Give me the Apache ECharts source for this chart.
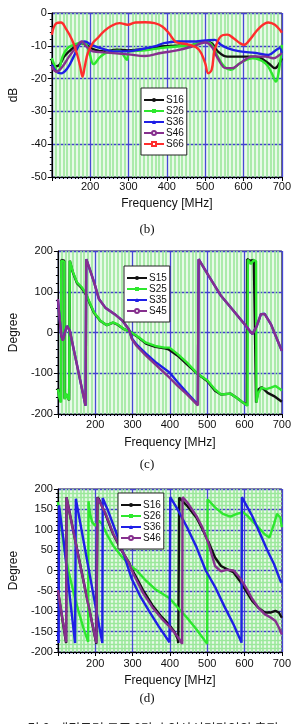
<!DOCTYPE html>
<html>
<head>
<meta charset="utf-8">
<script src="https://cdn.jsdelivr.net/npm/echarts@6/dist/echarts.min.js"></script>
<style>
  html, body { margin: 0; padding: 0; background: #fff; }
  #main { width: 294px; height: 724px; }
</style>
</head>
<body>
<div id="main"></div>
<script>
// ---- (b) magnitude, dB : [MHz, dB]
var magS16 = [[100,-14.3],[107,-16.3],[120,-15.8],[132,-13.3],[145,-11.7],[161,-10.2],[178,-9.2],[190,-9.7],[211,-11.2],[236,-11.7],[269,-11.2],[299,-11.4],[343,-11],[384,-10.2],[426,-10],[467,-9.7],[500,-8.7],[517,-9.2],[533,-11.7],[558,-13.3],[591,-13.3],[632,-13.3],[665,-15.3],[682,-16.8],[694,-15.3],[700,-13.8]];
var magS26 = [[100,-13.8],[105,-15.3],[116,-17.9],[128,-13.3],[141,-10.7],[157,-9.7],[174,-9.2],[186,-9.2],[198,-12.2],[209,-15.6],[227,-13.3],[252,-11.7],[277,-11.5],[289,-13.3],[296,-14.3],[302,-11.7],[343,-11.4],[384,-10.7],[426,-10.2],[467,-9.7],[500,-8.7],[517,-9.7],[533,-13.3],[550,-16.3],[566,-17.3],[591,-15.3],[624,-13.8],[657,-15.3],[674,-18.4],[684,-20.9],[694,-16.3],[700,-9.7]];
var magS36 = [[100,-15.8],[112,-17.9],[124,-18.4],[141,-16.8],[157,-13.3],[174,-9.2],[186,-8.7],[203,-9.7],[227,-10.7],[260,-11.7],[299,-11.7],[326,-11.2],[368,-10.2],[393,-9.2],[426,-8.7],[467,-8.7],[500,-8.4],[525,-8.2],[541,-9.7],[558,-10.7],[591,-11.7],[632,-12.2],[665,-12.8],[686,-11.2],[694,-10.7],[700,-12.2]];
var magS46 = [[100,-16.3],[112,-17.9],[128,-16.3],[145,-13.3],[165,-10.2],[178,-8.7],[190,-10.2],[207,-11.7],[236,-12],[299,-12.6],[343,-13.1],[384,-12.2],[426,-11.4],[467,-10.2],[500,-9],[517,-10.2],[533,-13.8],[554,-16.8],[570,-16.8],[591,-15.3],[624,-13.3],[657,-13.3],[678,-13.8],[694,-12.8],[700,-12.2]];
var magS66 = [[100,-6.6],[112,-3.1],[124,-2.9],[136,-4.6],[153,-8.2],[165,-12.2],[174,-16.3],[180,-19.4],[186,-16.3],[194,-12.2],[207,-9.2],[219,-7.7],[236,-5.6],[256,-3.9],[277,-3.1],[298,-3.6],[318,-2.9],[343,-2.8],[368,-3.1],[388,-4.1],[405,-6.1],[422,-8.7],[434,-9.2],[459,-9.7],[484,-11.2],[500,-15.3],[508,-18.4],[517,-17.3],[525,-11.2],[541,-7.1],[558,-6.6],[574,-7.7],[591,-9.2],[601,-9.7],[616,-8.2],[641,-4.6],[665,-2.9],[682,-3.6],[698,-5.6],[700,-6]];

// ---- (c) phase, degree : [MHz, deg]
var phS15 = [[100,-136],[104,-158],[108,-170],[109,178],[113,176],[117,176],[117.6,-162],[122,-152],[126,-158],[130,-166],[132,176],[139,150],[151,121],[164,109],[176,92],[185,72],[197,48],[214,28],[231,18],[248,24],[260,19],[277,8],[294,2],[311,-9],[336,-27],[361,-35],[386,-39],[396,-41],[421,-57],[446,-78],[475,-102],[500,-119],[521,-143],[537,-152],[562,-150],[579,-160],[596,-172],[606,-178],[607,180],[615,176],[625,178],[630,176],[631,-172],[637,-140],[646,-134],[662,-148],[679,-156],[700,-170]];
var phS25 = [[100,-139],[104,-160],[108,-172],[109,176],[113,178],[117,174],[117.6,-164],[122,-150],[126,-160],[130,-165],[132,176],[139,152],[151,123],[164,111],[176,94],[185,74],[197,49],[214,29],[231,18],[248,25],[260,20],[277,8],[294,2],[311,-8],[336,-25],[361,-33],[386,-37],[399,-37],[421,-53],[446,-74],[475,-102],[500,-117],[521,-140],[537,-152],[562,-150],[579,-160],[596,-172],[608,-180],[609,179],[617,168],[625,178],[631,175],[632,-172],[637,-148],[646,-135],[658,-139],[671,-135],[683,-131],[696,-139],[700,-143]];
var phS35 = [[100,80],[104,40],[109,-8],[113,-19],[119,1],[124,16],[127,18],[132,4],[140,-31],[150,-75],[160,-119],[170,-162],[174,-180],[176,180],[185,156],[197,123],[210,82],[227,61],[252,45],[273,29],[290,8],[298,-14],[311,-30],[336,-52],[361,-72],[399,-98],[421,-122],[446,-148],[475,-177],[477,180],[504,139],[537,90],[571,53],[604,16],[621,-4],[633,16],[644,45],[654,46],[671,20],[687,-16],[700,-45]];
var phS45 = [[100,82],[104,41],[109,-8],[113,-20],[119,0],[124,16],[127,18],[132,4],[140,-31],[150,-75],[160,-119],[170,-162],[174,-180],[176,180],[185,156],[197,123],[210,82],[227,61],[252,45],[273,29],[290,8],[298,-16],[311,-33],[336,-57],[361,-78],[399,-111],[421,-131],[446,-152],[475,-179],[477,180],[504,139],[537,90],[571,53],[604,16],[621,-4],[633,16],[644,45],[654,45],[671,20],[687,-16],[700,-45]];

// ---- (d) phase, degree : [MHz, deg]
var phS16 = [[100,-50],[110,-108],[122,-178],[123,180],[140,103],[160,13],[180,-77],[203,-180],[206,180],[210,175],[227,139],[248,89],[269,52],[290,20],[302,-3],[328,-48],[353,-85],[378,-114],[399,-134],[412,-150],[421,-168],[422.5,-178],[425,179],[446,159],[471,130],[487,102],[504,69],[521,32],[537,11],[554,3],[571,-5],[587,-25],[604,-50],[621,-75],[637,-91],[654,-103],[671,-103],[683,-99],[692,-103],[700,-116]];
var phS26 = [[100,168],[104,147],[109,106],[118,48],[128,0],[143,-58],[155,-99],[168,-140],[181,-175],[182,170],[186,139],[192,118],[200,110],[210,122],[218,114],[231,89],[248,61],[269,36],[294,12],[311,0],[336,-25],[361,-46],[399,-68],[421,-91],[446,-116],[471,-144],[500,-180],[501,175],[521,155],[542,139],[562,132],[579,139],[596,143],[608,134],[629,114],[654,89],[667,81],[679,114],[687,139],[696,130],[700,106]];
var phS36 = [[100,-150],[102,-178],[103,160],[105,157],[115,75],[125,-7],[135,-89],[146,-178],[148,176],[160,116],[180,16],[200,-84],[219,-178],[220,178],[235,145],[250,108],[265,70],[280,30],[298,-21],[320,-62],[344,-99],[370,-137],[399,-176],[400,-180],[401,180],[420,151],[446,106],[471,58],[496,0],[521,-40],[546,-88],[571,-133],[592,-177],[593,180],[620,135],[638,98],[662,48],[679,16],[696,-25],[700,-30]];
var phS46 = [[100,-48],[110,-106],[122,-176],[123,180],[140,102],[160,12],[180,-78],[203,-178],[206,179],[210,176],[227,141],[248,91],[269,53],[290,19],[302,-8],[328,-55],[353,-90],[378,-118],[399,-138],[413,-153],[425,-168],[433,-180],[434,180],[446,168],[471,134],[487,106],[504,65],[521,11],[537,-2],[554,2],[571,0],[587,-17],[604,-42],[621,-70],[637,-91],[654,-107],[671,-116],[683,-124],[692,-140],[700,-157]];

var freqTicks = [100, 700, 100];

var colS16 = '#111111', colS26 = '#2ee82e', colS36 = '#1f1fe6', colS46 = '#86308e', colS66 = '#ff2d2d';

var myChart = echarts.init(document.getElementById('main'));
var FONT = '"Liberation Sans", Arial, sans-serif';

function xAxisOf(i, labelMargin, nameGap) {
  return {
    type: 'value', gridIndex: i, min: freqTicks[0], max: freqTicks[1], interval: freqTicks[2],
    axisLine: { show: true, onZero: false, lineStyle: { color: '#000', width: 1 } },
    axisTick: { show: true, length: 4, lineStyle: { color: '#000' } },
    minorTick: { show: true, splitNumber: 10, length: 2, lineStyle: { color: '#000' } },
    splitLine: { show: true, lineStyle: { color: '#4747d6', width: 1.3 } },
    minorSplitLine: { show: true, lineStyle: { color: '#9be89b', width: 1.6 } },
    axisLabel: {
      fontSize: 11, color: '#111', fontFamily: FONT, margin: labelMargin,
      formatter: function (v) { return v === 100 ? '' : String(v); }
    },
    name: 'Frequency [MHz]', nameLocation: 'middle', nameGap: nameGap,
    nameTextStyle: { fontSize: 12, color: '#111', fontFamily: FONT }
  };
}

function yAxisOf(i, min, max, interval, name, nameGap, minorGrid) {
  return {
    type: 'value', gridIndex: i, min: min, max: max, interval: interval,
    axisLine: { show: true, onZero: false, lineStyle: { color: '#000', width: 1 } },
    axisTick: { show: true, length: 4, lineStyle: { color: '#000' } },
    minorTick: { show: true, splitNumber: 5, length: 2, lineStyle: { color: '#000' } },
    splitLine: { show: true, lineStyle: { color: '#4040c8', width: 1.3 } },
    minorSplitLine: { show: minorGrid, lineStyle: { color: '#9be89b', width: 1.4 } },
    axisLabel: { fontSize: 11, color: '#111', fontFamily: FONT, margin: 5 },
    name: name, nameLocation: 'middle', nameGap: nameGap,
    nameTextStyle: { fontSize: 12, color: '#111', fontFamily: FONT }
  };
}

function legendOf(names, left, top) {
  return {
    data: names, orient: 'vertical', left: left, top: top,
    itemWidth: 20, itemHeight: 5, itemGap: 1,
    padding: [7, 3, 6, 2],
    backgroundColor: '#fff', borderColor: '#222', borderWidth: 1, borderRadius: 0,
    selectedMode: false,
    textStyle: { fontSize: 10, lineHeight: 10, color: '#111', fontFamily: FONT, padding: [0, 0, 0, -3] }
  };
}

function line(name, data, color, symbol, i, smooth) {
  return {
    name: name, type: 'line', data: data, xAxisIndex: i, yAxisIndex: i,
    symbol: symbol, symbolSize: 4, showSymbol: false, smooth: smooth,
    color: color,
    lineStyle: { color: color, width: 2.4 },
    itemStyle: { color: color, borderColor: color },
    animation: false
  };
}

var gridStyle = { show: true, backgroundColor: '#e8fae8', borderColor: '#333', borderWidth: 1 };

var option = {
  animation: false,
  grid: [
    Object.assign({ left: 42, top: 13, width: 242, height: 164 }, gridStyle),
    Object.assign({ left: 48, top: 251, width: 236, height: 163 }, gridStyle),
    Object.assign({ left: 48, top: 489, width: 236, height: 163 }, gridStyle)
  ],
  xAxis: [xAxisOf(0, 4, 21), xAxisOf(1, 5, 23), xAxisOf(2, 6, 23)],
  yAxis: [
    yAxisOf(0, -50, 0, 10, 'dB', 26, false),
    yAxisOf(1, -200, 200, 100, 'Degree', 33, false),
    yAxisOf(2, -200, 200, 50, 'Degree', 33, true)
  ],
  legend: [
    legendOf(['S16', 'S26', 'S36', 'S46', 'S66'], 141, 88),
    legendOf(['S15', 'S25', 'S35', 'S45'], 124, 266),
    legendOf(['S16', 'S26', 'S36', 'S46'], 118, 493)
  ],
  graphic: [
    { type: 'text', left: 'center', top: 223, style: { text: '(b)', font: '13px "Liberation Serif", serif', fill: '#111' } },
    { type: 'text', left: 'center', top: 458, style: { text: '(c)', font: '13px "Liberation Serif", serif', fill: '#111' } },
    { type: 'text', left: 'center', top: 692, style: { text: '(d)', font: '13px "Liberation Serif", serif', fill: '#111' } },
    { type: 'text', left: 'center', top: 721.5, style: { text: '그림 8. 패티듈러 구조 8단자 입상신경라인의 측정', font: '13px "Noto Sans CJK KR", sans-serif', fill: '#222' } }
  ],
  series: [
    line('S16', magS16, colS16, 'circle', 0, 0.4),
    line('S26', magS26, colS26, 'rect', 0, 0.4),
    line('S36', magS36, colS36, 'triangle', 0, 0.4),
    line('S46', magS46, colS46, 'emptyCircle', 0, 0.4),
    line('S66', magS66, colS66, 'emptyRect', 0, 0.4),

    line('S15', phS15, colS16, 'circle', 1, false),
    line('S25', phS25, colS26, 'rect', 1, false),
    line('S35', phS35, colS36, 'triangle', 1, false),
    line('S45', phS45, colS46, 'emptyCircle', 1, false),

    line('S16', phS16, colS16, 'circle', 2, false),
    line('S26', phS26, colS26, 'rect', 2, false),
    line('S36', phS36, colS36, 'triangle', 2, false),
    line('S46', phS46, colS46, 'emptyCircle', 2, false)
  ]
};

option && myChart.setOption(option);
</script>
</body>
</html>
